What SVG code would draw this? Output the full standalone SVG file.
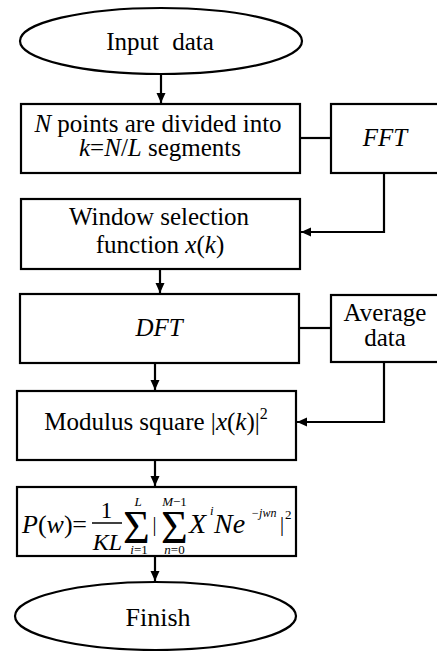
<svg xmlns="http://www.w3.org/2000/svg" width="437" height="651" viewBox="0 0 437 651">
<style>
  .shape { fill: #ffffff; stroke: #000000; stroke-width: 2.2; }
  .conn { fill: none; stroke: #000000; stroke-width: 2.2; }
  .t { font-family: "Liberation Serif", "Times New Roman", "DejaVu Serif", serif; font-size: 25px; fill: #000000; }
  .c { text-anchor: middle; }
  .i { font-style: italic; }
  .s { font-family: "Liberation Serif", "Times New Roman", "DejaVu Serif", serif; font-size: 13px; fill: #000000; }
</style>
<defs>
  <marker id="arrow" markerUnits="userSpaceOnUse" markerWidth="10" markerHeight="10" viewBox="0 0 10 10" refX="10" refY="5" orient="auto">
    <path d="M0,0.5 L10,5 L0,9.5 Z" fill="#000000"/>
  </marker>
</defs>
<rect width="437" height="651" fill="#ffffff"/>

<g id="connectors">
  <line class="conn" x1="161" y1="75" x2="161" y2="103" marker-end="url(#arrow)"/>
  <line class="conn" x1="300" y1="138" x2="331" y2="138"/>
  <polyline class="conn" points="384,173 384,232 301,232" marker-end="url(#arrow)"/>
  <line class="conn" x1="160" y1="269" x2="160" y2="293" marker-end="url(#arrow)"/>
  <line class="conn" x1="299" y1="328" x2="331" y2="328"/>
  <polyline class="conn" points="384,363 384,422 297,422" marker-end="url(#arrow)"/>
  <line class="conn" x1="155" y1="364" x2="155" y2="390" marker-end="url(#arrow)"/>
  <line class="conn" x1="155" y1="460" x2="155" y2="486" marker-end="url(#arrow)"/>
  <line class="conn" x1="155" y1="556" x2="155" y2="581" marker-end="url(#arrow)"/>
</g>

<g id="input">
  <ellipse class="shape" cx="161" cy="41" rx="141" ry="33"/>
  <text class="t c" x="160" y="50" style="word-spacing:7px">Input data</text>
</g>

<g id="divide">
  <rect class="shape" x="21" y="104" width="279" height="69"/>
  <text class="t c" x="158" y="132"><tspan class="i">N</tspan> points are divided into</text>
  <text class="t c" x="160" y="156"><tspan class="i">k</tspan>=<tspan class="i">N</tspan>/<tspan class="i">L</tspan> segments</text>
</g>

<g id="fft">
  <rect class="shape" x="331" y="104" width="130" height="69"/>
  <text class="t c i" x="385" y="146">FFT</text>
</g>

<g id="window">
  <rect class="shape" x="21" y="199" width="279" height="70"/>
  <text class="t c" x="159" y="225">Window selection</text>
  <text class="t c" x="160" y="253">function <tspan class="i">x</tspan>(<tspan class="i">k</tspan>)</text>
</g>

<g id="dft">
  <rect class="shape" x="20" y="294" width="279" height="69"/>
  <text class="t c i" x="159" y="336">DFT</text>
</g>

<g id="average">
  <rect class="shape" x="331" y="295" width="130" height="67"/>
  <text class="t c" x="385" y="321">Average</text>
  <text class="t c" x="385" y="346">data</text>
</g>

<g id="modulus">
  <rect class="shape" x="17" y="391" width="279" height="69"/>
  <text class="t c" x="156" y="430">Modulus square |<tspan class="i">x</tspan>(<tspan class="i">k</tspan>)|<tspan style="font-size:16px" dy="-11">2</tspan></text>
</g>

<g id="formula">
  <rect class="shape" x="17" y="487" width="279" height="69"/>
  <text class="t" x="22" y="533" style="font-size:26px"><tspan class="i">P</tspan>(<tspan class="i">w</tspan>)</text>
  <text class="t c" x="79.5" y="533" style="font-size:26px">=</text>
  <text class="t c" x="106.5" y="518" style="font-size:23px">1</text>
  <line x1="92" y1="523" x2="122" y2="523" stroke="#000000" stroke-width="1.5"/>
  <text class="t c i" x="107.5" y="550" style="font-size:24px">KL</text>
  <text class="t c" x="136.5" y="543" style="font-size:46px">Σ</text>
  <text class="s c i" x="138" y="506">L</text>
  <text class="s c" x="139" y="554"><tspan class="i">i</tspan>=1</text>
  <text class="t c" x="154.5" y="531" style="font-size:20px">|</text>
  <text class="t c" x="174.5" y="543" style="font-size:46px">Σ</text>
  <text class="s c" x="174.5" y="506"><tspan class="i">M</tspan>−1</text>
  <text class="s c" x="174.5" y="554"><tspan class="i">n</tspan>=0</text>
  <text class="t i" x="189" y="533" style="font-size:28px">X</text>
  <text class="s i" x="210" y="515">i</text>
  <text class="t i" x="214" y="533" style="font-size:28px">Ne</text>
  <text class="s i" x="251" y="517" style="font-size:12px">−jwn</text>
  <text class="t c" x="282" y="531" style="font-size:20px">|</text>
  <text class="s" x="285" y="519">2</text>
</g>

<g id="finish">
  <ellipse class="shape" cx="155.5" cy="616" rx="140.5" ry="34"/>
  <text class="t c" x="158" y="626" style="font-size:26px">Finish</text>
</g>
</svg>
